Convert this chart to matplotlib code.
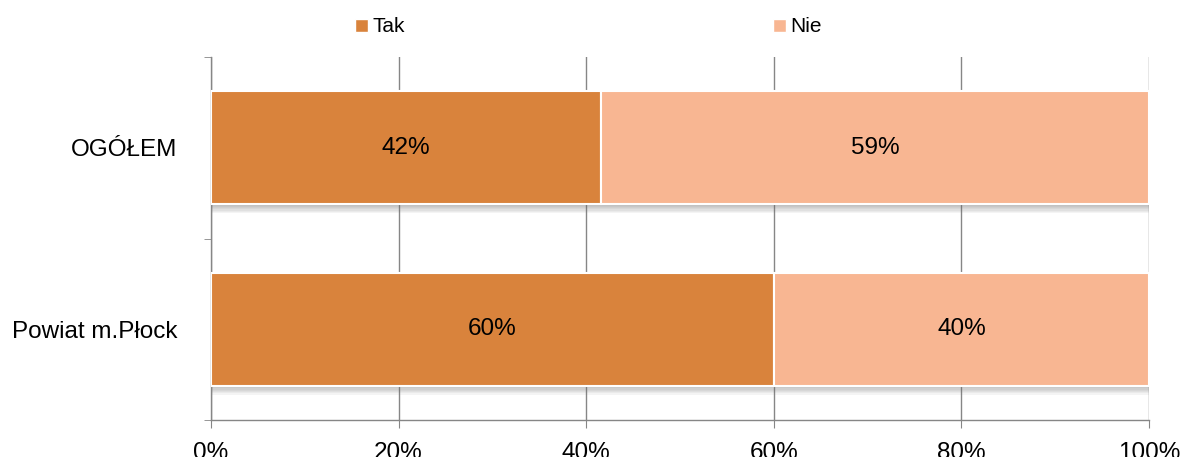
import matplotlib
matplotlib.use("Agg")
import matplotlib.pyplot as plt
import matplotlib.patheffects as pe
from matplotlib.patches import Patch
import numpy as np

categories = ["OGÓŁEM", "Powiat m.Płock"]
tak = [41.6, 60.0]
nie = [58.4, 40.0]
tak_labels = ["42%", "60%"]
nie_labels = ["59%", "40%"]
series_names = ["Tak", "Nie"]
x_ticks = [0, 20, 40, 60, 80, 100]
x_ticklabels = ["0%", "20%", "40%", "60%", "80%", "100%"]

c_tak = "#D9833C"
c_nie = "#F8B692"
grid_c = "#868686"

plt.rcParams['font.family'] = ['Liberation Sans', 'DejaVu Sans']

fig = plt.figure(figsize=(11.84, 4.57), dpi=100)
ax = fig.add_axes([211/1184, 1 - 420/457, (1149 - 211)/1184, (420 - 57)/457])

y = np.arange(len(categories))
shadow = [pe.SimplePatchShadow(offset=(0.5, -k * 0.9), shadow_rgbFace="#6a6a6a", alpha=0.07)
          for k in range(1, 8)] + [pe.Normal()]
b1 = ax.barh(y, tak, height=0.625, color=c_tak, edgecolor="white", linewidth=1.5, zorder=3)
b2 = ax.barh(y, nie, left=tak, height=0.625, color=c_nie, edgecolor="white", linewidth=1.5, zorder=3)
for bars in (b1, b2):
    for p in bars:
        p.set_path_effects(shadow)

for i in range(len(categories)):
    ax.text(tak[i] / 2, y[i], tak_labels[i], ha="center", va="center", fontsize=17.5, color="black", zorder=4)
    ax.text(tak[i] + nie[i] / 2, y[i], nie_labels[i], ha="center", va="center", fontsize=17.5, color="black", zorder=4)

ax.set_xlim(0, 100)
ax.set_ylim(-0.5, len(categories) - 0.5)
ax.invert_yaxis()

ax.set_xticks(x_ticks)
ax.set_xticklabels(x_ticklabels, fontsize=17.5)
ax.set_yticks(y)
ax.set_yticklabels(categories, fontsize=17.5)
ax.set_yticks([-0.5, 0.5, 1.5], minor=True)
ax.tick_params(axis="y", which="major", length=0, pad=24)
ax.tick_params(axis="y", which="minor", length=5, color=grid_c, direction="out")
ax.tick_params(axis="x", which="major", length=6, color=grid_c, direction="out", pad=10)

ax.grid(axis="x", color=grid_c, linewidth=1, zorder=0)
ax.set_axisbelow(True)
for s in ("top", "right"):
    ax.spines[s].set_visible(False)
for s in ("left", "bottom"):
    ax.spines[s].set_color(grid_c)
    ax.spines[s].set_linewidth(1)

handles = [Patch(facecolor=c_tak, edgecolor="white"), Patch(facecolor=c_nie, edgecolor="white")]
fig.legend(handles, series_names, loc="center", bbox_to_anchor=(0.497, 1 - 27/457), ncol=2,
           frameon=False, fontsize=15, handlelength=0.6, handleheight=0.6, handletextpad=0.2,
           columnspacing=17.7)

fig.savefig("out.png", dpi=100)
